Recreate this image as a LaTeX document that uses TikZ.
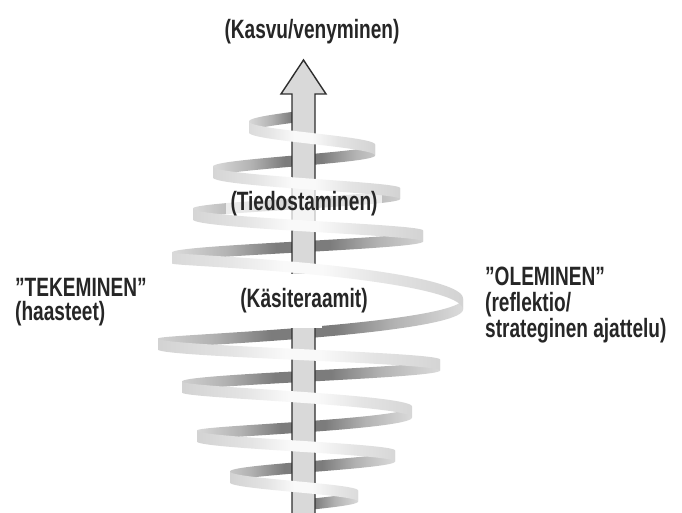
\documentclass[tikz,border=0pt]{standalone}
\usepackage{fontspec}
\newfontfamily\labelfont[FakeStretch=0.72]{Liberation Sans}

\definecolor{ribbonlight}{HTML}{DCDCDC}
\definecolor{ribbonmid}{HTML}{B2B2B2}
\definecolor{ribbondark}{HTML}{7C7C7C}
\definecolor{frontside}{HTML}{D2D2D2}
\definecolor{frontmid}{HTML}{E4E4E4}
\definecolor{fronttop}{HTML}{F9F9F9}
\definecolor{arrowfill}{HTML}{D9D9D9}
\definecolor{arrowline}{HTML}{2E2E2E}
\definecolor{inktext}{HTML}{262626}

% inner side of the ribbon (behind the arrow): shadowed in the middle
\pgfdeclarehorizontalshading{innerband}{100bp}{color(0bp)=(ribbonlight); color(25bp)=(ribbonlight); color(36bp)=(ribbonmid); color(45bp)=(ribbondark); color(50bp)=(ribbondark); color(55bp)=(ribbondark); color(64bp)=(ribbonmid); color(75bp)=(ribbonlight); color(100bp)=(ribbonlight)}
% outer side of the ribbon (in front of the arrow): bright in the middle
\pgfdeclarehorizontalshading{outerband}{100bp}{color(0bp)=(frontside); color(25bp)=(frontside); color(38bp)=(frontmid); color(47bp)=(fronttop); color(53bp)=(fronttop); color(62bp)=(frontmid); color(75bp)=(frontside); color(100bp)=(frontside)}

% vertical progress along a half-turn: linear descent plus a small bulge
\newcommand\turnw[1]{(\ang/180+(#1)*sin(\ang))}

% one half-turn of the spiral ribbon
% #1 shading, #2 xs, #3 ys, #4 xe, #5 ye, #6 bulge factor,
% #7 start angle, #8 end angle, #9 half width of the shaded area
\newcommand\ribbonband[9]{%
  \begin{scope}
    \clip plot[domain=#7:#8, variable=\ang, samples=60]
        ({#2+(#4-#2)*(1-cos(\ang))/2}, {#3+(#5-#3)*\turnw{#6}-5.5})
      -- plot[domain=#8:#7, variable=\ang, samples=60]
        ({#2+(#4-#2)*(1-cos(\ang))/2}, {#3+(#5-#3)*\turnw{#6}+5.5}) -- cycle;
    \shade[shading=#1] ({303-#9}, {min(#3,#5)-14}) rectangle ({303+#9}, {max(#3,#5)+14});
  \end{scope}}

\begin{document}
\begin{tikzpicture}[x=1pt, y=-1pt,
  lbl/.style={inner sep=0pt, text=inktext, font=\labelfont\bfseries\fontsize{26.5}{26}\selectfont},
  arrowbody/.style={fill=arrowfill, draw=arrowline, line width=1.4pt, line join=miter}]
\useasboundingbox (0,0) rectangle (682,513);

% back halves of the spiral
\ribbonband{innerband}{357}{105}{249}{127}{0}{85}{180}{56}
\ribbonband{innerband}{375}{150}{213}{172}{0}{0}{180}{92}
\ribbonband{innerband}{400}{193.5}{193}{214}{0}{0}{180}{112}
\ribbonband{innerband}{423}{236}{172}{258}{0}{0}{180}{133}
\ribbonband{innerband}{463}{304}{158}{344}{0.21}{0}{180}{162}
\ribbonband{innerband}{440}{365}{182}{387}{0}{0}{180}{139}
\ribbonband{innerband}{412}{412}{197}{436}{0.12}{0}{180}{111}
\ribbonband{innerband}{395}{456}{230}{477}{0}{0}{180}{94}
\ribbonband{innerband}{358}{496}{248}{514}{0}{0}{95}{57}

% growth arrow
\filldraw[arrowbody] (292,520) -- (292,94) -- (281,94) -- (303.5,60)
  -- (326,94) -- (315,94) -- (315,520);

% light space around the inner labels
\fill[white, opacity=0.72] (226,188) rectangle (382,221);
\fill[white] (285,273.5) rectangle (322,327.5);

% front halves of the spiral
\ribbonband{outerband}{249}{127}{375}{150}{0}{0}{180}{74}
\ribbonband{outerband}{213}{172}{400}{193.5}{0.05}{0}{180}{99}
\ribbonband{outerband}{193}{214}{423}{236}{0.05}{0}{180}{122}
\ribbonband{outerband}{172}{258}{463}{304}{-0.25}{0}{180}{162}
\ribbonband{outerband}{158}{344}{440}{365}{0}{0}{180}{147}
\ribbonband{outerband}{182}{387}{412}{412}{-0.1}{0}{180}{123}
\ribbonband{outerband}{197}{436}{395}{456}{0}{0}{180}{108}
\ribbonband{outerband}{230}{477}{358}{496}{0}{0}{180}{75}

% labels
\node[lbl, anchor=base] (growth) at (312,39) {(Kasvu/venyminen)};
\node[lbl, anchor=base] (aware) at (304,211) {(Tiedostaminen)};
\node[lbl, anchor=base] (frames) at (304,307) {(Käsiteraamit)};
\node[lbl, anchor=base west, align=left,
  font=\labelfont\bfseries\fontsize{26.5}{24}\selectfont] (doing) at (15,320)
  {”TEKEMINEN”\\(haasteet)};
\node[lbl, anchor=base west, align=left] (being) at (485,337)
  {”OLEMINEN”\\(reflektio/\\strateginen ajattelu)};
\end{tikzpicture}
\end{document}
